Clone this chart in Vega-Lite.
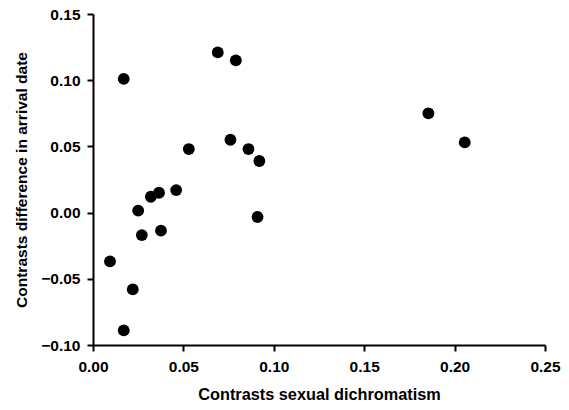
{
  "$schema": "https://vega.github.io/schema/vega-lite/v6.json",
  "width": 452,
  "height": 331,
  "autosize": {"type": "none"},
  "padding": {"left": 93, "top": 14, "right": 24, "bottom": 65},
  "background": "white",
  "config": {
    "view": {"stroke": null},
    "font": "Liberation Sans",
    "axis": {
      "grid": false,
      "domainColor": "black",
      "domainWidth": 2,
      "tickColor": "black",
      "tickWidth": 2,
      "tickSize": 6,
      "labelFont": "Liberation Sans",
      "labelFontWeight": "bold",
      "labelFontSize": 15.5,
      "labelColor": "black",
      "titleFont": "Liberation Sans",
      "titleFontWeight": "bold",
      "titleFontSize": 15.5,
      "titleColor": "black"
    }
  },
  "data": {
    "values": [
      {"dichromatism": 0.017, "arrival": 0.101},
      {"dichromatism": 0.069, "arrival": 0.121},
      {"dichromatism": 0.079, "arrival": 0.115},
      {"dichromatism": 0.053, "arrival": 0.048},
      {"dichromatism": 0.076, "arrival": 0.055},
      {"dichromatism": 0.086, "arrival": 0.048},
      {"dichromatism": 0.092, "arrival": 0.039},
      {"dichromatism": 0.046, "arrival": 0.017},
      {"dichromatism": 0.032, "arrival": 0.012},
      {"dichromatism": 0.0365, "arrival": 0.015},
      {"dichromatism": 0.025, "arrival": 0.0015},
      {"dichromatism": 0.091, "arrival": -0.0033},
      {"dichromatism": 0.027, "arrival": -0.017},
      {"dichromatism": 0.0376, "arrival": -0.0136},
      {"dichromatism": 0.0094, "arrival": -0.0368},
      {"dichromatism": 0.022, "arrival": -0.058},
      {"dichromatism": 0.017, "arrival": -0.089},
      {"dichromatism": 0.1855, "arrival": 0.075},
      {"dichromatism": 0.2056, "arrival": 0.053}
    ]
  },
  "mark": {"type": "circle", "color": "black", "opacity": 1, "size": 140},
  "encoding": {
    "x": {
      "field": "dichromatism",
      "type": "quantitative",
      "scale": {"domain": [0, 0.25], "nice": false, "zero": false},
      "axis": {
        "title": "Contrasts sexual dichromatism",
        "titleFontSize": 16.3,
        "values": [0, 0.05, 0.1, 0.15, 0.2, 0.25],
        "format": ".2f",
        "labelPadding": 8,
        "titlePadding": 12,
        "labelFlush": false
      }
    },
    "y": {
      "field": "arrival",
      "type": "quantitative",
      "scale": {"domain": [-0.1, 0.15], "nice": false, "zero": false},
      "axis": {
        "title": "Contrasts difference in arrival date",
        "values": [-0.1, -0.05, 0, 0.05, 0.1, 0.15],
        "format": ".2f",
        "labelPadding": 7,
        "titlePadding": 11,
        "labelFlush": false
      }
    }
  }
}
